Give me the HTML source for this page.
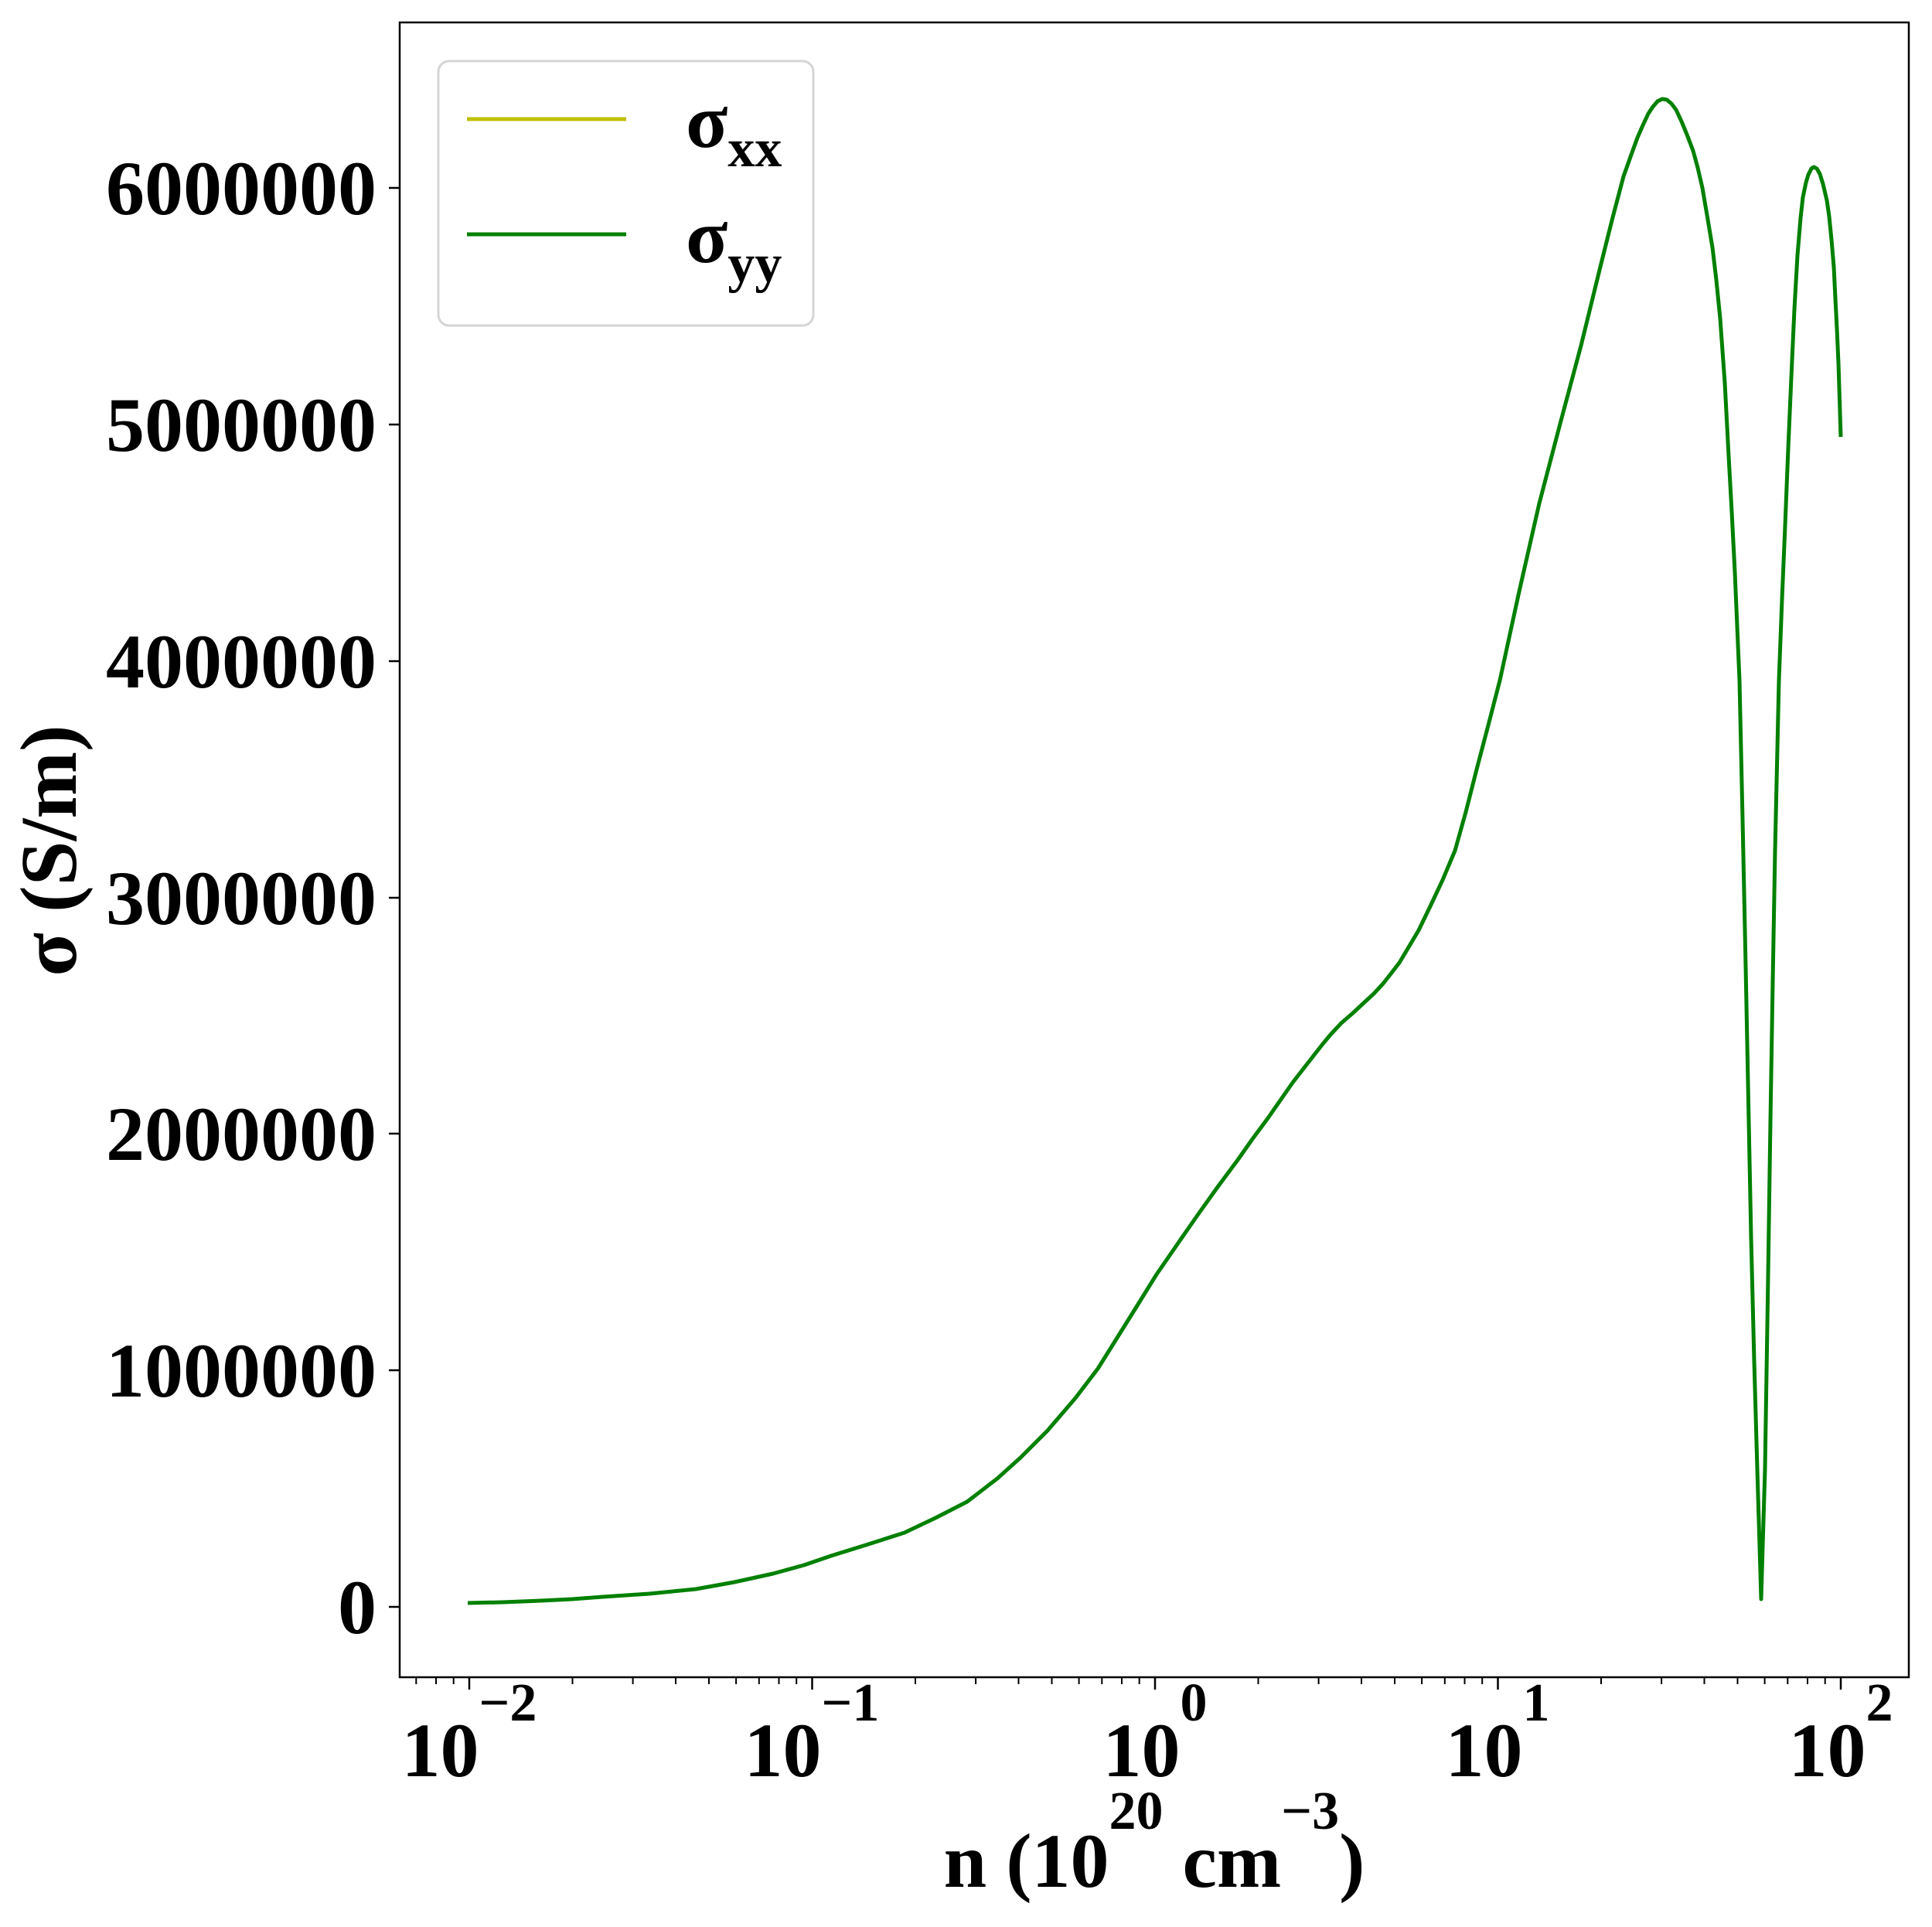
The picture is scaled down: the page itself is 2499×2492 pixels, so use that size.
<!DOCTYPE html>
<html><head><meta charset="utf-8"><style>
html,body{margin:0;padding:0;background:#fff;}
svg{display:block;}
text{font-family:"Liberation Serif","DejaVu Serif",serif;font-weight:bold;fill:#000;}
</style></head><body>
<svg width="2499" height="2492" viewBox="0 0 2499 2492" xmlns="http://www.w3.org/2000/svg">
<rect width="2499" height="2492" fill="#fff"/>
<polyline fill="none" stroke="#008000" stroke-width="5" stroke-linejoin="round" points="605,2073 650,2072 700,2070 740,2068 780,2065 840,2061 900,2055 950,2046 1000,2035 1040,2024 1075,2012 1120,1998 1170,1982 1210,1963 1251,1942 1290,1912 1320,1885 1355,1850 1391,1808 1420,1770 1445,1730 1470,1690 1496,1648 1525,1606 1550,1570 1575,1535 1601,1500 1620,1473 1640,1446 1656,1423 1672,1400 1686,1382 1700,1364 1711,1350 1721,1338 1735,1323 1750,1310 1764,1297 1777,1285 1789,1272 1800,1258 1810,1245 1819,1230 1835,1203 1850,1172 1866,1138 1882,1100 1896,1050 1910,995 1925,938 1940,880 1965,765 1991,651 2018,548 2045,447 2070,345 2085,285 2100,228 2110,200 2118,178 2125,162 2132,147 2138,138 2144,131 2150,128 2156,129 2162,134 2168,142 2175,157 2182,174 2190,195 2196,217 2202,243 2208,278 2215,320 2220,362 2225,412 2231,495 2236,590 2240,662 2244,740 2250,880 2254,1060 2258,1250 2262,1450 2265,1600 2269,1760 2273,1900 2276,2000 2278,2068 2280,2000 2283,1900 2287,1650 2290,1450 2293,1270 2296,1100 2301,880 2305,775 2309,680 2313,580 2317,488 2321,400 2325,330 2329,282 2332,255 2336,236 2339,226 2343,218 2346,216 2350,218 2354,225 2358,238 2363,259 2366,280 2369,310 2372,345 2374,386 2376,425 2378,470 2381,565"/>
<rect x="517" y="29" width="1952" height="2140" fill="none" stroke="#000" stroke-width="2.5"/>
<g stroke="#000" stroke-width="2.5">
<line x1="503" y1="2078" x2="517" y2="2078"/>
<line x1="503" y1="1772" x2="517" y2="1772"/>
<line x1="503" y1="1466" x2="517" y2="1466"/>
<line x1="503" y1="1161" x2="517" y2="1161"/>
<line x1="503" y1="855" x2="517" y2="855"/>
<line x1="503" y1="549" x2="517" y2="549"/>
<line x1="503" y1="243" x2="517" y2="243"/>
<line x1="607" y1="2169" x2="607" y2="2185"/>
<line x1="1050.5" y1="2169" x2="1050.5" y2="2185"/>
<line x1="1494" y1="2169" x2="1494" y2="2185"/>
<line x1="1937.5" y1="2169" x2="1937.5" y2="2185"/>
<line x1="2381" y1="2169" x2="2381" y2="2185"/>
</g>
<g stroke="#000" stroke-width="2">
<line x1="538.3" y1="2169" x2="538.3" y2="2178"/><line x1="564" y1="2169" x2="564" y2="2178"/><line x1="586.7" y1="2169" x2="586.7" y2="2178"/>
<line x1="740.5" y1="2169" x2="740.5" y2="2178"/><line x1="818.6" y1="2169" x2="818.6" y2="2178"/><line x1="874" y1="2169" x2="874" y2="2178"/><line x1="917" y1="2169" x2="917" y2="2178"/><line x1="952.1" y1="2169" x2="952.1" y2="2178"/><line x1="981.8" y1="2169" x2="981.8" y2="2178"/><line x1="1007.5" y1="2169" x2="1007.5" y2="2178"/><line x1="1030.2" y1="2169" x2="1030.2" y2="2178"/>
<line x1="1184" y1="2169" x2="1184" y2="2178"/><line x1="1262.1" y1="2169" x2="1262.1" y2="2178"/><line x1="1317.5" y1="2169" x2="1317.5" y2="2178"/><line x1="1360.5" y1="2169" x2="1360.5" y2="2178"/><line x1="1395.6" y1="2169" x2="1395.6" y2="2178"/><line x1="1425.3" y1="2169" x2="1425.3" y2="2178"/><line x1="1451" y1="2169" x2="1451" y2="2178"/><line x1="1473.7" y1="2169" x2="1473.7" y2="2178"/>
<line x1="1627.5" y1="2169" x2="1627.5" y2="2178"/><line x1="1705.6" y1="2169" x2="1705.6" y2="2178"/><line x1="1761" y1="2169" x2="1761" y2="2178"/><line x1="1804" y1="2169" x2="1804" y2="2178"/><line x1="1839.1" y1="2169" x2="1839.1" y2="2178"/><line x1="1868.8" y1="2169" x2="1868.8" y2="2178"/><line x1="1894.5" y1="2169" x2="1894.5" y2="2178"/><line x1="1917.2" y1="2169" x2="1917.2" y2="2178"/>
<line x1="2071" y1="2169" x2="2071" y2="2178"/><line x1="2149.1" y1="2169" x2="2149.1" y2="2178"/><line x1="2204.5" y1="2169" x2="2204.5" y2="2178"/><line x1="2247.5" y1="2169" x2="2247.5" y2="2178"/><line x1="2282.6" y1="2169" x2="2282.6" y2="2178"/><line x1="2312.3" y1="2169" x2="2312.3" y2="2178"/><line x1="2338" y1="2169" x2="2338" y2="2178"/><line x1="2360.7" y1="2169" x2="2360.7" y2="2178"/>
</g>
<g font-size="100" text-anchor="end">
<text x="487" y="2112">0</text>
<text x="487" y="1806">1000000</text>
<text x="487" y="1500">2000000</text>
<text x="487" y="1195">3000000</text>
<text x="487" y="889">4000000</text>
<text x="487" y="583">5000000</text>
<text x="487" y="277">6000000</text>
</g>
<g font-size="100" text-anchor="middle">
<text x="607" y="2297">10<tspan font-size="70" dy="-72">−2</tspan></text>
<text x="1050" y="2297">10<tspan font-size="70" dy="-72">−1</tspan></text>
<text x="1494" y="2297">10<tspan font-size="70" dy="-72">0</tspan></text>
<text x="1937" y="2297">10<tspan font-size="70" dy="-72">1</tspan></text>
<text x="2381" y="2297">10<tspan font-size="70" dy="-72">2</tspan></text>
</g>
<text x="1493" y="2440" font-size="100" text-anchor="middle">n (10<tspan font-size="70" dy="-75">20</tspan><tspan dy="75"> cm</tspan><tspan font-size="70" dy="-75">−3</tspan><tspan dy="75">)</tspan></text>
<text transform="translate(98,1100) rotate(-90)" font-size="104" text-anchor="middle">σ (S/m)</text>
<rect x="567" y="79" width="485" height="342" rx="14" ry="14" fill="#fff" fill-opacity="0.8" stroke="#d5d5d5" stroke-width="3"/>
<line x1="604" y1="154" x2="810" y2="154" stroke="#bfbf00" stroke-width="5"/>
<line x1="604" y1="303" x2="810" y2="303" stroke="#008000" stroke-width="5"/>
<text x="887" y="190" font-size="100">σ<tspan font-size="70" dy="25">xx</tspan></text>
<text x="887" y="339" font-size="100">σ<tspan font-size="70" dy="25">yy</tspan></text>
</svg>
</body></html>
